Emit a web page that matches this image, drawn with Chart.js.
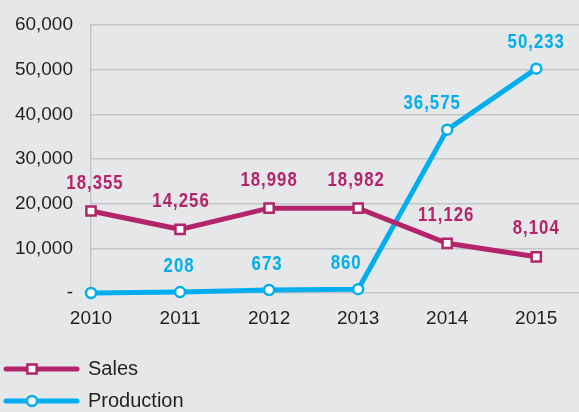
<!DOCTYPE html>
<html>
<head>
<meta charset="utf-8">
<script src="https://cdn.jsdelivr.net/npm/chart.js@4"></script>
<style>
  html, body { margin: 0; padding: 0; background: #e6e7e8; }
  #wrap { width: 579px; height: 412px; }
</style>
</head>
<body>
<div id="wrap"><canvas id="c" width="579" height="412"></canvas></div>
<script>
// ---- data ----
const years = [2010, 2011, 2012, 2013, 2014, 2015];
const salesValues = [18355, 14256, 18998, 18982, 11126, 8104];
const productionValues = [0, 208, 673, 860, 36575, 50233];
const salesLabels = ['18,355', '14,256', '18,998', '18,982', '11,126', '8,104'];
const productionLabels = ['', '208', '673', '860', '36,575', '50,233'];
const yTicks = [0, 10000, 20000, 30000, 40000, 50000, 60000];
const seriesNames = ['Sales', 'Production'];

const SALES = '#b3246b';
const PROD = '#00aeef';
const GRID = '#c4c5c7';
const TEXT = '#231f20';

const toPoints = (vals) => vals.map((v, i) => ({ x: years[i], y: v }));

const labelPlugin = {
  id: 'valueLabels',
  afterDatasetsDraw(chart) {
    const ctx = chart.ctx;
    const cfg = chart.options.plugins.valueLabels;
    chart.data.datasets.forEach((ds, di) => {
      const meta = chart.getDatasetMeta(di);
      const labels = cfg.labels[di];
      const shifts = cfg.shiftX[di];
      meta.data.forEach((pt, i) => {
        if (!labels[i]) return;
        ctx.save();
        ctx.font = 'bold 20px "Liberation Sans", Arial, sans-serif';
        if ('letterSpacing' in ctx) ctx.letterSpacing = '1.2px';
        ctx.fillStyle = ds.borderColor;
        ctx.textAlign = 'center';
        ctx.textBaseline = 'bottom';
        ctx.translate(pt.x + shifts[i], pt.y - cfg.gap[di]);
        ctx.scale(0.84, 1);
        ctx.fillText(labels[i], 0, 0);
        ctx.restore();
      });
    });
  }
};

const legendPlugin = {
  id: 'customLegend',
  afterDraw(chart) {
    const ctx = chart.ctx;
    const rows = [369, 401];
    chart.data.datasets.forEach((ds, di) => {
      const y = rows[di];
      ctx.save();
      ctx.strokeStyle = ds.borderColor;
      ctx.lineWidth = ds.borderWidth;
      ctx.lineCap = 'round';
      ctx.beginPath();
      ctx.moveTo(6, y);
      ctx.lineTo(77, y);
      ctx.stroke();
      ctx.fillStyle = ds.pointBackgroundColor;
      ctx.strokeStyle = ds.borderColor;
      ctx.lineWidth = ds.pointBorderWidth;
      Chart.helpers.drawPoint(ctx, { pointStyle: ds.pointStyle, radius: ds.pointRadius, rotation: 0, borderWidth: ds.pointBorderWidth }, 32, y);
      ctx.font = '20px "Liberation Sans", Arial, sans-serif';
      ctx.fillStyle = TEXT;
      ctx.textAlign = 'left';
      ctx.textBaseline = 'middle';
      ctx.fillText(ds.label, 88, y);
      ctx.restore();
    });
  }
};

const bgPlugin = {
  id: 'bg',
  beforeDraw(chart) {
    const ctx = chart.ctx;
    ctx.save();
    ctx.fillStyle = '#e6e7e8';
    ctx.fillRect(0, 0, chart.width, chart.height);
    ctx.restore();
  }
};

new Chart(document.getElementById('c'), {
  type: 'line',
  data: {
    datasets: [
      {
        label: seriesNames[0],
        data: toPoints(salesValues),
        borderColor: SALES,
        backgroundColor: SALES,
        borderWidth: 5,
        pointStyle: 'rect',
        pointRadius: 6.5,
        pointBorderWidth: 2.5,
        pointBackgroundColor: '#ffffff',
        pointBorderColor: SALES,
        tension: 0
      },
      {
        label: seriesNames[1],
        data: toPoints(productionValues),
        borderColor: PROD,
        backgroundColor: PROD,
        borderWidth: 5,
        pointStyle: 'circle',
        pointRadius: 5,
        pointBorderWidth: 2.5,
        pointBackgroundColor: '#ffffff',
        pointBorderColor: PROD,
        tension: 0
      }
    ]
  },
  options: {
    responsive: false,
    animation: false,
    clip: false,
    layout: { autoPadding: false, padding: { top: 25, right: 0, bottom: 82, left: 0 } },
    plugins: {
      legend: { display: false },
      tooltip: { enabled: false },
      valueLabels: {
        labels: [salesLabels, productionLabels],
        shiftX: [[4, 1, 0, -2, -1, 0], [0, -1, -2, -12, -15, 0]],
        gap: [18, 16]
      }
    },
    scales: {
      x: {
        type: 'linear',
        min: years[0],
        max: 2015.48,
        afterBuildTicks: (s) => { s.ticks = years.map((v) => ({ value: v })); },
        afterFit: (s) => { s.height = 37; s.paddingRight = 0; s.paddingLeft = 0; },
        grid: { display: false, drawTicks: false },
        border: { display: false },
        ticks: {
          padding: 14,
          autoSkip: false,
          maxRotation: 0,
          color: TEXT,
          font: { family: '"Liberation Sans", Arial, sans-serif', size: 19 },
          callback: (v) => String(v)
        }
      },
      y: {
        min: yTicks[0],
        max: yTicks[yTicks.length - 1],
        afterBuildTicks: (s) => { s.ticks = yTicks.map((v) => ({ value: v })); },
        afterFit: (s) => { s.width = 91; s.paddingTop = 0; s.paddingBottom = 0; },
        grid: { color: GRID, lineWidth: 1.5, drawTicks: false },
        border: { display: true, color: GRID, width: 1.5 },
        ticks: {
          padding: 18,
          color: TEXT,
          font: { family: '"Liberation Sans", Arial, sans-serif', size: 19 },
          callback: (v) => v === 0 ? '-' : v.toLocaleString('en-US')
        }
      }
    }
  },
  plugins: [bgPlugin, labelPlugin, legendPlugin]
});
</script>
</body>
</html>
